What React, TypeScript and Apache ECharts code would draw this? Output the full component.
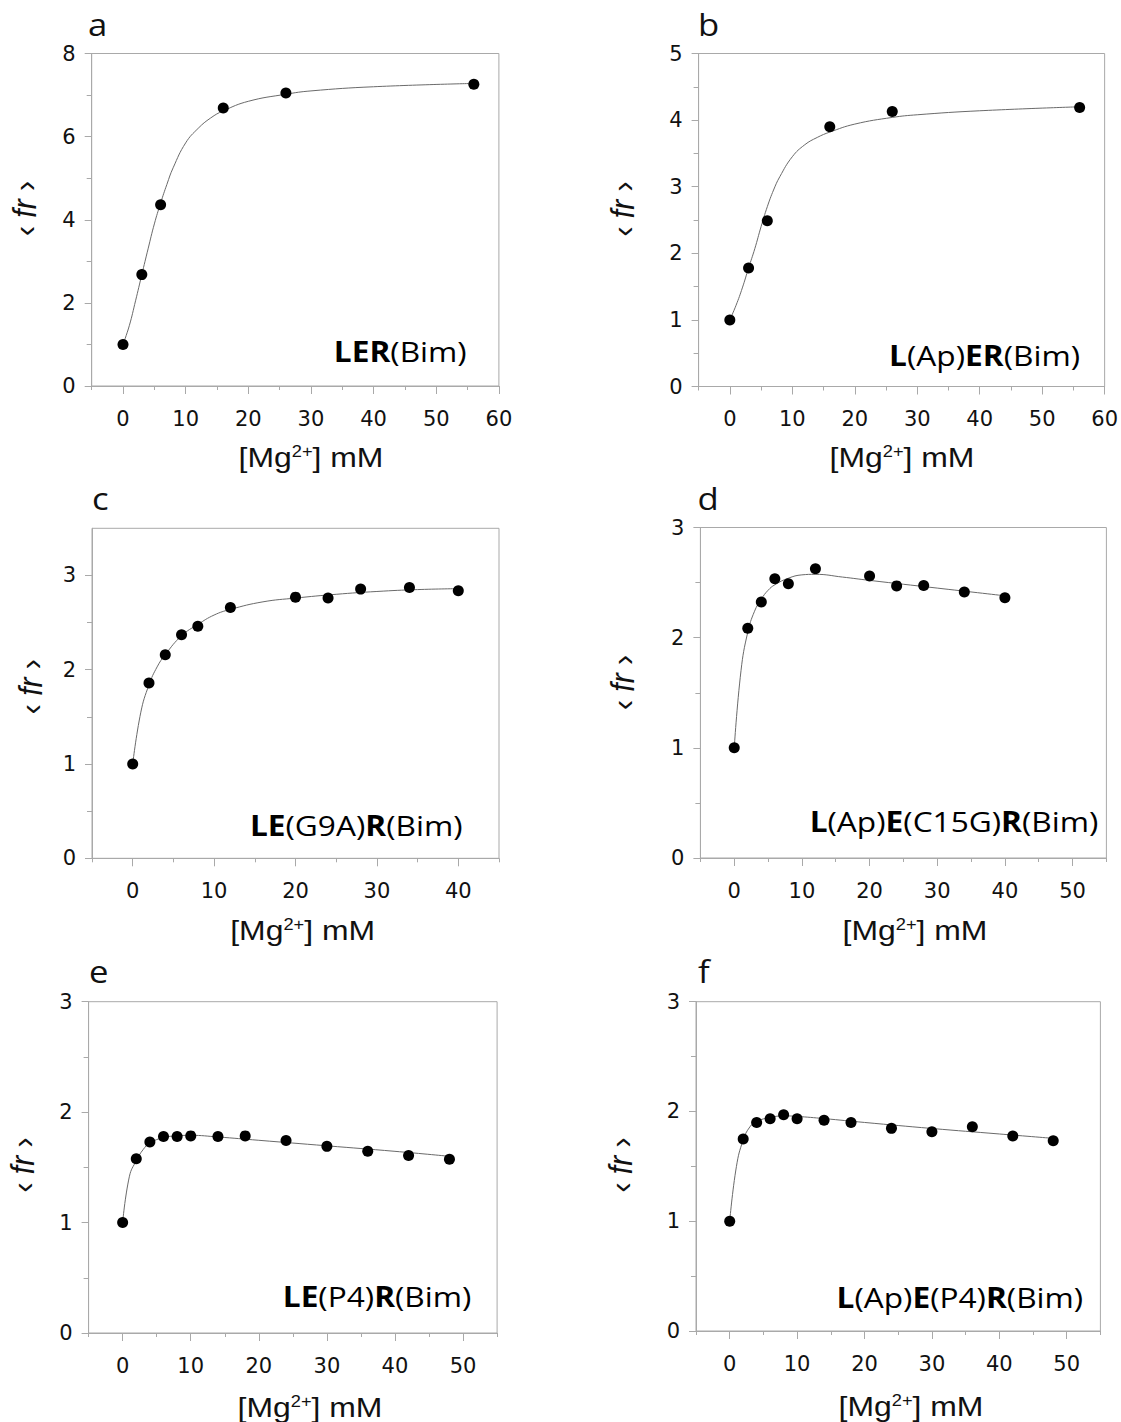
import React, { useEffect, useRef } from "react";
import * as echarts from "echarts";

// ---------- data ----------
// panel a : LER(Bim)
const aMg = [0, 3, 6, 16, 26, 56];
const aFr = [1.0, 2.68, 4.36, 6.69, 7.05, 7.26];
const aFitMg = [0, 1, 2, 3, 4, 5, 6, 7, 8, 10, 12, 14, 16, 20, 26, 30, 40, 56];
const aFitFr = [1.0, 1.45, 2.05, 2.68, 3.3, 3.9, 4.4, 4.85, 5.25, 5.85, 6.2, 6.45, 6.62, 6.85, 7.02, 7.1, 7.2, 7.28];

// panel b : L(Ap)ER(Bim)
const bMg = [0, 3, 6, 16, 26, 56];
const bFr = [1.0, 1.78, 2.49, 3.9, 4.13, 4.19];
const bFitMg = [0, 1, 2, 3, 4, 5, 6, 7, 8, 10, 12, 14, 16, 20, 26, 30, 40, 56];
const bFitFr = [1.0, 1.22, 1.48, 1.78, 2.07, 2.4, 2.7, 2.95, 3.15, 3.45, 3.63, 3.74, 3.82, 3.94, 4.04, 4.08, 4.14, 4.2];

// panel c : LE(G9A)R(Bim)
const cMg = [0, 2, 4, 6, 8, 12, 20, 24, 28, 34, 40];
const cFr = [1.0, 1.86, 2.16, 2.37, 2.46, 2.66, 2.77, 2.76, 2.855, 2.873, 2.837];
const cFitMg = [0, 1, 2, 3, 4, 6, 8, 10, 12, 16, 20, 25, 30, 35, 40];
const cFitFr = [1.0, 1.55, 1.84, 2.03, 2.16, 2.36, 2.48, 2.58, 2.64, 2.72, 2.76, 2.8, 2.83, 2.85, 2.86];

// panel d : L(Ap)E(C15G)R(Bim)
const dMg = [0, 2, 4, 6, 8, 12, 20, 24, 28, 34, 40];
const dFr = [1.0, 2.085, 2.323, 2.535, 2.49, 2.625, 2.56, 2.47, 2.474, 2.414, 2.362];
const dFitMg = [0, 1, 2, 3, 4, 5, 6, 8, 10, 12, 16, 20, 30, 40];
const dFitFr = [1.0, 1.7, 2.05, 2.24, 2.35, 2.43, 2.48, 2.54, 2.57, 2.575, 2.55, 2.52, 2.45, 2.38];

// panel e : LE(P4)R(Bim)
const eMg = [0, 2, 4, 6, 8, 10, 14, 18, 24, 30, 36, 42, 48];
const eFr = [1.0, 1.577, 1.73, 1.78, 1.78, 1.785, 1.78, 1.785, 1.743, 1.69, 1.646, 1.607, 1.574];
const eFitMg = [0, 1, 2, 3, 4, 6, 8, 10, 14, 20, 30, 40, 48];
const eFitFr = [1.0, 1.42, 1.56, 1.66, 1.72, 1.77, 1.785, 1.79, 1.775, 1.745, 1.695, 1.645, 1.6];

// panel f : L(Ap)E(P4)R(Bim)
const fMg = [0, 2, 4, 6, 8, 10, 14, 18, 24, 30, 36, 42, 48];
const fFr = [1.0, 1.75, 1.9, 1.934, 1.97, 1.934, 1.92, 1.9, 1.846, 1.816, 1.86, 1.776, 1.734];
const fFitMg = [0, 1, 2, 3, 4, 6, 8, 10, 14, 20, 30, 40, 48];
const fFitFr = [1.0, 1.5, 1.74, 1.86, 1.91, 1.945, 1.96, 1.955, 1.935, 1.9, 1.845, 1.795, 1.755];

// tick labels / tick positions
const xLabels60 = [0, 10, 20, 30, 40, 50, 60];
const xMinor60 = [-5, 5, 15, 25, 35, 45, 55];
const xLabels40 = [0, 10, 20, 30, 40];
const xMinor45 = [-5, 5, 15, 25, 35, 45];
const xLabels50 = [0, 10, 20, 30, 40, 50];
const xMinor55 = [-5, 5, 15, 25, 35, 45, 55];
const yLabels8 = [0, 2, 4, 6, 8];
const yMinor8 = [1, 3, 5, 7];
const yLabels5 = [0, 1, 2, 3, 4, 5];
const yMinor5 = [0.5, 1.5, 2.5, 3.5, 4.5];
const yLabels3 = [0, 1, 2, 3];
const yMinor3 = [0.5, 1.5, 2.5];

const panelLetters = ["a", "b", "c", "d", "e", "f"];
const insetTexts = [
  "{b|LER}{r|(Bim)}",
  "{b|L}{r|(Ap)}{b|ER}{r|(Bim)}",
  "{b|LE}{r|(G9A)}{b|R}{r|(Bim)}",
  "{b|L}{r|(Ap)}{b|E}{r|(C15G)}{b|R}{r|(Bim)}",
  "{b|LE}{r|(P4)}{b|R}{r|(Bim)}",
  "{b|L}{r|(Ap)}{b|E}{r|(P4)}{b|R}{r|(Bim)}",
];

// ---------- layout (pixels) ----------
type Layout = {
  left: number; right: number; top: number; bottom: number;
  letter: [number, number]; yTitle: [number, number]; xTitle: [number, number]; inset: [number, number];
};
const layouts: Layout[] = [
  { left: 91.7, right: 498.9, top: 53.5, bottom: 386, letter: [88, 36.7], yTitle: [24, 208.5], xTitle: [311, 457], inset: [466.7, 351] },
  { left: 698.6, right: 1107.5, top: 53.5, bottom: 386.5, letter: [698, 36.7], yTitle: [622.5, 209], xTitle: [902, 457], inset: [1080, 355] },
  { left: 92, right: 499, top: 528.3, bottom: 858.3, letter: [92, 510], yTitle: [30, 686.7], xTitle: [302.7, 930], inset: [462.5, 825.5] },
  { left: 700.4, right: 1106.4, top: 527.5, bottom: 858, letter: [697.5, 510], yTitle: [622.5, 682.5], xTitle: [915, 930], inset: [1098.3, 821.7] },
  { left: 88.6, right: 497.1, top: 1001.7, bottom: 1333, letter: [89, 983.3], yTitle: [22, 1165], xTitle: [310, 1407], inset: [471.4, 1296.7] },
  { left: 696, right: 1100.4, top: 1001.7, bottom: 1331, letter: [698, 983.3], yTitle: [620.5, 1165], xTitle: [911, 1406], inset: [1083.2, 1297] },
];

const panels = [
  { mg: aMg, fr: aFr, fitMg: aFitMg, fitFr: aFitFr, xMax: 60, yMax: 8, xLabels: xLabels60, xMinor: xMinor60, yLabels: yLabels8, yMinor: yMinor8 },
  { mg: bMg, fr: bFr, fitMg: bFitMg, fitFr: bFitFr, xMax: 60, yMax: 5, xLabels: xLabels60, xMinor: xMinor60, yLabels: yLabels5, yMinor: yMinor5 },
  { mg: cMg, fr: cFr, fitMg: cFitMg, fitFr: cFitFr, xMax: 45, yMax: 3.5, xLabels: xLabels40, xMinor: xMinor45, yLabels: yLabels3, yMinor: yMinor3 },
  { mg: dMg, fr: dFr, fitMg: dFitMg, fitFr: dFitFr, xMax: 55, yMax: 3, xLabels: xLabels50, xMinor: xMinor55, yLabels: yLabels3, yMinor: yMinor3 },
  { mg: eMg, fr: eFr, fitMg: eFitMg, fitFr: eFitFr, xMax: 55, yMax: 3, xLabels: xLabels50, xMinor: xMinor55, yLabels: yLabels3, yMinor: yMinor3 },
  { mg: fMg, fr: fFr, fitMg: fFitMg, fitFr: fFitFr, xMax: 55, yMax: 3, xLabels: xLabels50, xMinor: xMinor55, yLabels: yLabels3, yMinor: yMinor3 },
];

const GRAY = "#a9a9a9";
const TEXT = "#111111";
const TICK_FONT = "DejaVu Sans";
const TITLE_FONT = "Liberation Sans";
const LABEL_FONT = "Open Sans";

function buildOption() {
  const grid: any[] = [];
  const xAxis: any[] = [];
  const yAxis: any[] = [];
  const series: any[] = [];
  const graphic: any[] = [];

  panels.forEach((p, i) => {
    const L = layouts[i];
    grid.push({
      left: L.left, top: L.top, width: L.right - L.left, height: L.bottom - L.top,
      show: true, borderColor: GRAY, borderWidth: 1, backgroundColor: "transparent", containLabel: false,
    });
    xAxis.push({
      gridIndex: i, type: "value", min: -5, max: p.xMax, position: "bottom",
      axisLine: { show: true, onZero: false, lineStyle: { color: GRAY, width: 1 } },
      axisTick: { show: true, length: 8, customValues: p.xLabels, lineStyle: { color: GRAY, width: 1 } },
      axisLabel: { customValues: p.xLabels, fontSize: 21, fontFamily: TICK_FONT, color: TEXT, margin: 22 },
      splitLine: { show: false },
    });
    xAxis.push({
      gridIndex: i, type: "value", min: -5, max: p.xMax, position: "bottom",
      axisLine: { show: false, onZero: false },
      axisTick: { show: true, length: 4, customValues: p.xMinor, lineStyle: { color: GRAY, width: 1 } },
      axisLabel: { show: false },
      splitLine: { show: false },
    });
    yAxis.push({
      gridIndex: i, type: "value", min: 0, max: p.yMax, position: "left",
      axisLine: { show: true, onZero: false, lineStyle: { color: GRAY, width: 1 } },
      axisTick: { show: true, length: 7, customValues: p.yLabels, lineStyle: { color: GRAY, width: 1 } },
      axisLabel: { customValues: p.yLabels, fontSize: 21, fontFamily: TICK_FONT, color: TEXT, margin: 16 },
      splitLine: { show: false },
    });
    yAxis.push({
      gridIndex: i, type: "value", min: 0, max: p.yMax, position: "left",
      axisLine: { show: false, onZero: false },
      axisTick: { show: true, length: 5, customValues: p.yMinor, lineStyle: { color: GRAY, width: 1 } },
      axisLabel: { show: false },
      splitLine: { show: false },
    });

    series.push({
      type: "line", name: panelLetters[i] + " fit", xAxisIndex: 2 * i, yAxisIndex: 2 * i,
      data: p.fitMg.map((x, k) => [x, p.fitFr[k]]),
      smooth: 0.45, showSymbol: false, symbol: "none",
      lineStyle: { color: "#6a6a6a", width: 1 }, z: 2, silent: true,
    });
    series.push({
      type: "scatter", name: panelLetters[i], xAxisIndex: 2 * i, yAxisIndex: 2 * i,
      data: p.mg.map((x, k) => [x, p.fr[k]]),
      symbol: "circle", symbolSize: 11, itemStyle: { color: "#000000", opacity: 1 }, z: 3, silent: true,
    });

    graphic.push({
      type: "text", x: L.letter[0], y: L.letter[1] - 0.388 * 31, scaleX: 1.12, silent: true,
      style: {
        text: panelLetters[i], fontSize: 31, fontFamily: LABEL_FONT, fill: TEXT,
        align: "left", verticalAlign: "middle", textAlign: "left", textVerticalAlign: "middle",
      },
    });
    graphic.push({
      type: "text", x: L.yTitle[0], y: L.yTitle[1], rotation: Math.PI / 2, scaleY: 1.12, silent: true,
      style: {
        text: "‹ {i|fr} ›", fontSize: 30, fontFamily: TITLE_FONT, fill: TEXT,
        rich: { i: { fontSize: 30, fontFamily: TITLE_FONT, fontStyle: "italic", fill: TEXT } },
        align: "center", verticalAlign: "middle", textAlign: "center", textVerticalAlign: "middle",
      },
    });
    graphic.push({
      type: "text", x: L.xTitle[0], y: L.xTitle[1], scaleX: 1.14, silent: true,
      style: {
        text: "[Mg{sup|2+}] mM", fontSize: 28, fontFamily: TITLE_FONT, fill: TEXT,
        rich: { sup: { fontSize: 16, fontFamily: TITLE_FONT, fill: TEXT, verticalAlign: "top" } },
        align: "center", verticalAlign: "middle", textAlign: "center", textVerticalAlign: "middle",
      },
    });
    graphic.push({
      type: "text", x: L.inset[0], y: L.inset[1], scaleX: 1.13, silent: true,
      style: {
        text: insetTexts[i], fontSize: 28, fontFamily: LABEL_FONT, fill: "#000",
        rich: {
          b: { fontSize: 28, fontFamily: LABEL_FONT, fontWeight: "bold", fill: "#000" },
          r: { fontSize: 28, fontFamily: LABEL_FONT, fill: "#000" },
        },
        align: "right", verticalAlign: "middle", textAlign: "right", textVerticalAlign: "middle",
      },
    });
  });

  return {
    animation: false,
    backgroundColor: "#ffffff",
    grid, xAxis, yAxis, series, graphic,
  };
}

export default function App() {
  const ref = useRef<HTMLDivElement>(null);
  useEffect(() => {
    if (!ref.current) return;
    const chart = echarts.init(ref.current, null, { renderer: "svg" });
    chart.setOption(buildOption() as any);
    return () => chart.dispose();
  }, []);
  return (
    <div
      ref={ref}
      style={{ position: "absolute", left: 0, top: 0, width: 1121, height: 1422, background: "#fff" }}
    />
  );
}
